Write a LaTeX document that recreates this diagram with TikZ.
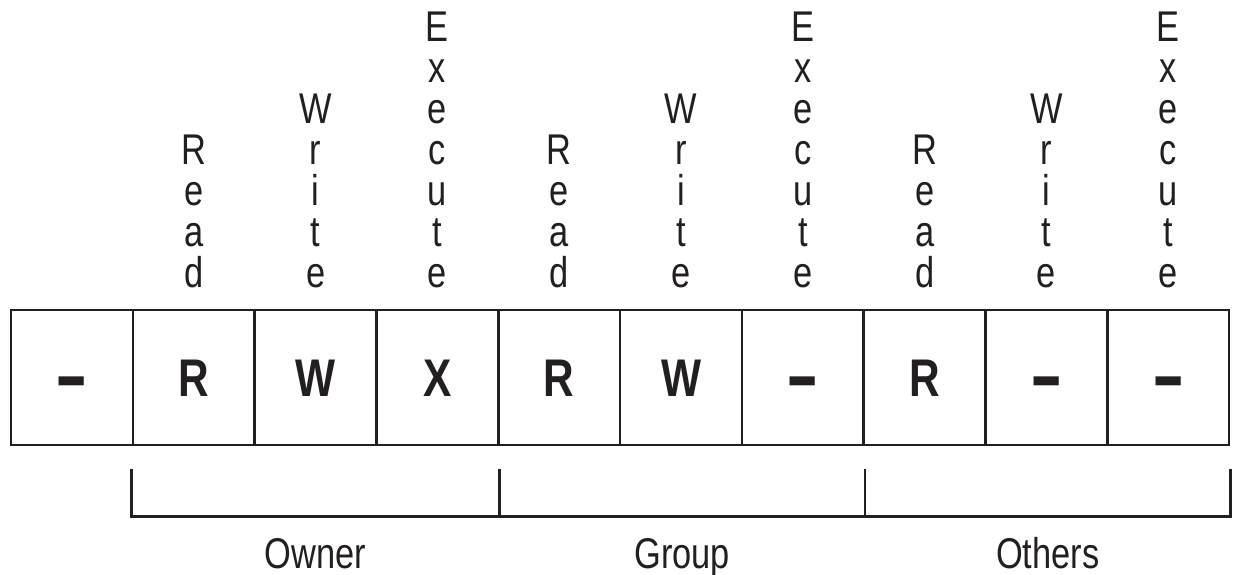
\documentclass[tikz,border=0pt]{standalone}
\usepackage{fontspec}
\setmainfont{Liberation Sans}
\newfontfamily\cond[FakeStretch=0.8]{Liberation Sans}
\usetikzlibrary{calc}
\definecolor{ink}{HTML}{231F20}
\newcommand{\bdash}{\raisebox{-9pt}{\scalebox{1.2}[1.7]{–}}}
\begin{document}
\begin{tikzpicture}[x=1pt,y=-1pt,
  cell/.style={draw=ink,line width=2.6pt,minimum width=121.8pt,minimum height=135pt,inner sep=0pt,
    text height=38pt,text depth=0pt,
    font=\cond\bfseries\fontsize{53}{53}\selectfont,text=ink},
  vlet/.style={anchor=base,inner sep=0pt,font=\cond\fontsize{43}{43}\selectfont,text=ink},
  grp/.style={anchor=base,inner sep=0pt,font=\cond\fontsize{43}{43}\selectfont,text=ink},
  bracket/.style={draw=ink,line width=2.4pt,line join=miter}]
\useasboundingbox (0,0) rectangle (1233,575);
% cells
\foreach \t [count=\i from 0] in {\bdash,R,W,X,R,W,\bdash,R,\bdash,\bdash}
  \node[cell] (c\i) at ({72+121.8*\i},377.5) {\t};
% vertical labels
\foreach \col/\n/\letters in {1/4/{R,e,a,d},2/5/{W,r,i,t,e},3/7/{E,x,e,c,u,t,e},
                             4/4/{R,e,a,d},5/5/{W,r,i,t,e},6/7/{E,x,e,c,u,t,e},
                             7/4/{R,e,a,d},8/5/{W,r,i,t,e},9/7/{E,x,e,c,u,t,e}}{
  \foreach \L [count=\k] in \letters
    \node[vlet] (l\col-\k) at ($(c\col.north)+(0,{-21-41*(\n-\k)})$) {\L};
}
% bracket
\coordinate (b0) at ([yshift=-23pt]c1.south west);
\coordinate (b1) at ([yshift=-23pt]c3.south east);
\coordinate (b2) at ([yshift=-23pt]c6.south east);
\coordinate (b3) at ([yshift=-23pt]c9.south east);
\coordinate (d0) at ([yshift=-70pt]c1.south west);
\coordinate (d1) at ([yshift=-70pt]c3.south east);
\coordinate (d2) at ([yshift=-70pt]c6.south east);
\coordinate (d3) at ([yshift=-70pt]c9.south east);
\draw[bracket] (b0) -- (d0) -- (d3) -- (b3);
\draw[bracket] (b1) -- (d1);
\draw[bracket] (b2) -- (d2);
% group labels
\node[grp] (owner) at ($(d0)!0.5!(d1)+(0,52)$) {Owner};
\node[grp] (group) at ($(d1)!0.5!(d2)+(0,52)$) {Group};
\node[grp] (others) at ($(d2)!0.5!(d3)+(0,52)$) {Others};
\end{tikzpicture}
\end{document}
